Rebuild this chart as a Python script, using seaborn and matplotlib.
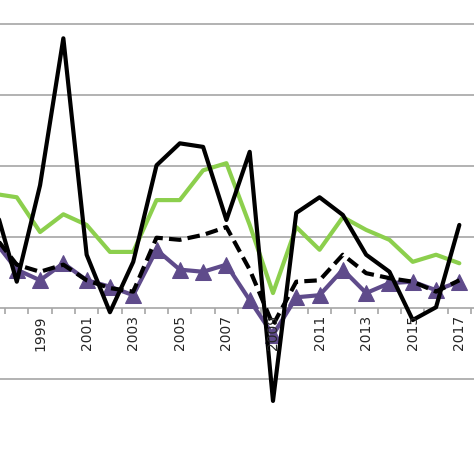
import seaborn as sns
import pandas as pd
import matplotlib.pyplot as plt

years = list(range(1997, 2018))
solid = [1.52, 0.37, 1.73, 3.80, 0.75, -0.06, 0.65, 2.01, 2.32, 2.27, 1.24,
         2.20, -1.31, 1.34, 1.56, 1.31, 0.75, 0.51, -0.17, 0.01, 1.17]
green = [1.61, 1.56, 1.07, 1.32, 1.17, 0.79, 0.79, 1.52, 1.52, 1.94, 2.04,
         1.17, 0.21, 1.14, 0.82, 1.28, 1.10, 0.96, 0.65, 0.75, 0.63]
dashed = [1.03, 0.61, 0.51, 0.61, 0.39, 0.28, 0.23, 0.99, 0.96, 1.03, 1.14,
          0.54, -0.24, 0.37, 0.39, 0.75, 0.49, 0.42, 0.37, 0.23, 0.39]
purple = [0.96, 0.54, 0.39, 0.63, 0.39, 0.30, 0.18, 0.82, 0.54, 0.51, 0.61,
          0.11, -0.38, 0.15, 0.18, 0.54, 0.21, 0.35, 0.37, 0.25, 0.37]
gridlines = [-1, 1, 2, 3, 4]

df = pd.DataFrame({'year': years, 'solid': solid, 'green': green,
                   'dashed': dashed, 'purple': purple})

sns.set_style('white')
fig = plt.figure(figsize=(4.74, 4.74), dpi=100)
ax = fig.add_axes([0, 0, 1, 1])

for g in gridlines:
    ax.axhline(g, color='#a6a6a6', lw=1.2, zorder=0)
ax.axhline(0, color='#a6a6a6', lw=1.2, zorder=0)
ax.vlines([y + 0.5 for y in years], -0.09, 0, color='#a6a6a6', lw=1.2, zorder=0)

sns.lineplot(data=df, x='year', y='green', color='#8ccf4d', lw=3, ax=ax)
sns.lineplot(data=df, x='year', y='purple', color='#5f4b8b', lw=3, marker='^',
             markersize=11, markeredgecolor='#5f4b8b', ax=ax)
sns.lineplot(data=df, x='year', y='dashed', color='black', lw=3, ax=ax,
             dashes=False, linestyle=(0, (3, 1.5)))
sns.lineplot(data=df, x='year', y='solid', color='black', lw=3, ax=ax)

for y in years[2::2]:
    ax.text(y, -0.1, str(y), rotation=90, ha='center', va='top', fontsize=10,
            family='DejaVu Sans')

ax.set_xlim(1997.28, 2017.63)
ax.set_ylim(-2.34, 4.34)
ax.set_xlabel('')
ax.set_ylabel('')
ax.set_xticks([])
ax.set_yticks([])
for s in ax.spines.values():
    s.set_visible(False)
fig.savefig('out.png', dpi=100)
